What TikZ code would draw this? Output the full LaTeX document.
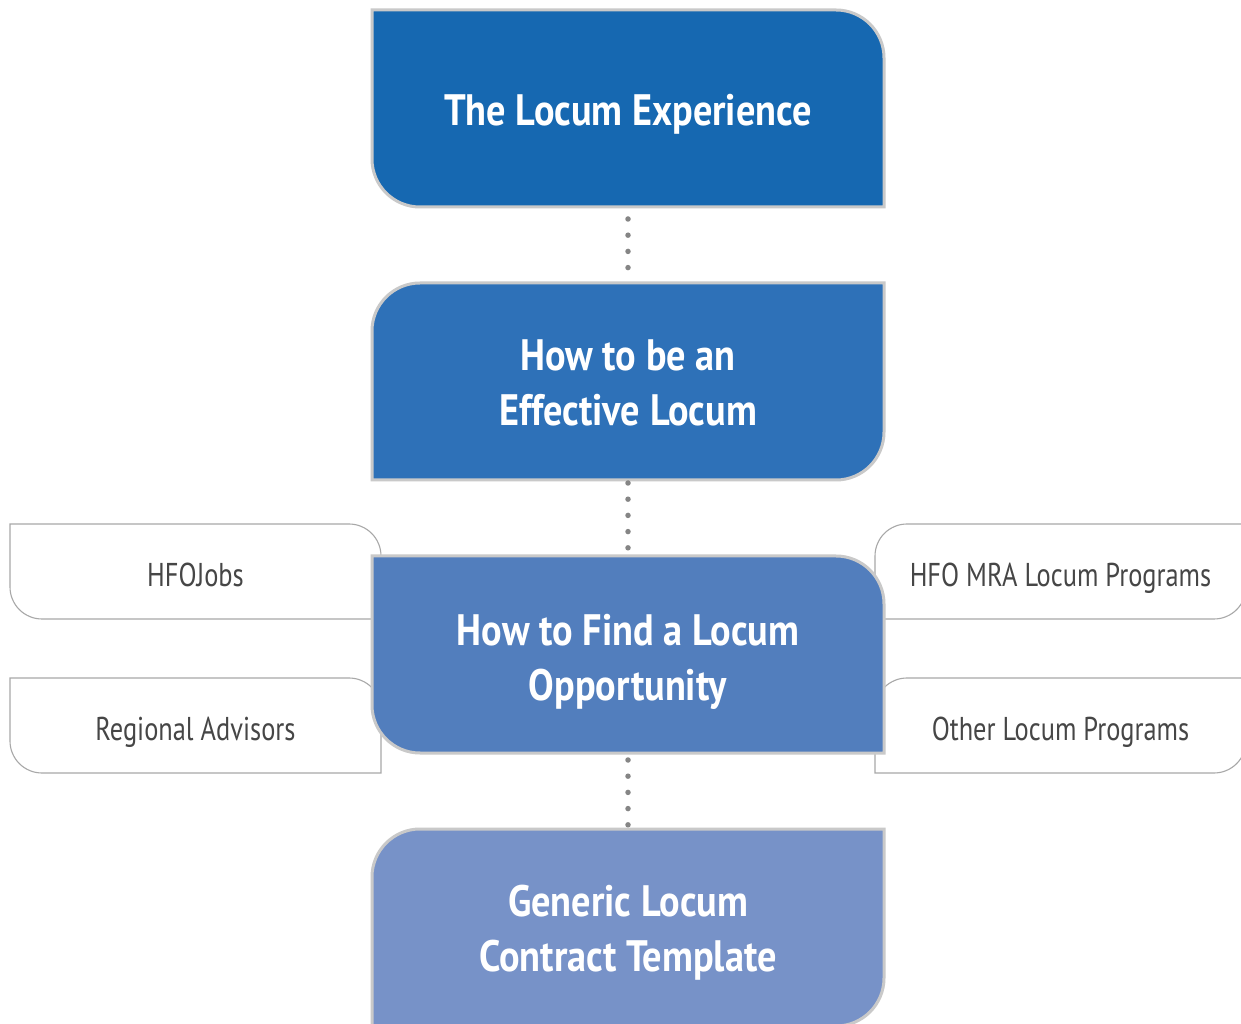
\documentclass[tikz,border=0pt]{standalone}
\usepackage{fontspec}
\newfontfamily\boxfont{PT Sans}[FakeStretch=0.87]
\newfontfamily\sidefont{PT Sans}[FakeStretch=0.80]
\usetikzlibrary{calc}
\definecolor{cA}{HTML}{1668B1}
\definecolor{cB}{HTML}{2E71B8}
\definecolor{cC}{HTML}{527EBD}
\definecolor{cD}{HTML}{7792C8}
\definecolor{mainborder}{HTML}{C9C9C9}
\definecolor{sideborder}{HTML}{A8A8A8}
\definecolor{sidetext}{HTML}{464646}
\definecolor{dotgray}{HTML}{858585}
\tikzset{
  frame/.style={inner sep=0pt, outer sep=0pt, minimum width=#1},
  mainbox/.style={frame=512pt, minimum height=197pt},
  sidebox/.style={frame=371pt, minimum height=95pt},
  mainshape/.style={draw=mainborder, line width=3pt, fill=#1},
  sideshape/.style={draw=sideborder, line width=1.1pt, fill=white},
  maintext/.style={text=white, font=\boxfont\bfseries\fontsize{44}{55}\selectfont, align=center},
  sidetxt/.style={text=sidetext, font=\sidefont\fontsize{33}{40}\selectfont, anchor=base},
  dotline/.style={draw=dotgray, line width=5.5pt, line cap=round, dash pattern=on 0pt off 16.2pt}
}
\newcommand\shapeA[3]{\draw[#3] (#1.north west) -- ([xshift=-#2]#1.north east) arc[start angle=90,end angle=0,radius=#2] -- (#1.south east) -- ([xshift=#2]#1.south west) arc[start angle=270,end angle=180,radius=#2] -- cycle;}
\newcommand\shapeB[3]{\draw[#3] (#1.south west) -- ([yshift=-#2]#1.north west) arc[start angle=180,end angle=90,radius=#2] -- (#1.north east) -- ([yshift=#2]#1.south east) arc[start angle=0,end angle=-90,radius=#2] -- cycle;}
\begin{document}
\begin{tikzpicture}[x=1pt,y=1pt]
\useasboundingbox[fill=white] (0,0) rectangle (1241,1023);
% frames
\node[mainbox] (b1) at (628,914.5) {};
\node[mainbox] (b2) at (628,641.5) {};
\node[mainbox] (b3) at (628,368.5) {};
\node[mainbox] (b4) at (628,95.5) {};
\node[sidebox] (s1) at (195.5,451.5) {};
\node[sidebox] (s2) at (195.5,297.5) {};
\node[sidebox] (s3) at (1060.5,451.5) {};
\node[sidebox] (s4) at (1060.5,297.5) {};
% side shapes
\shapeA{s1}{32pt}{sideshape}
\shapeA{s2}{32pt}{sideshape}
\shapeB{s3}{32pt}{sideshape}
\shapeB{s4}{32pt}{sideshape}
% main shapes
\shapeA{b1}{48pt}{mainshape=cA}
\shapeB{b2}{48pt}{mainshape=cB}
\shapeA{b3}{48pt}{mainshape=cC}
\shapeB{b4}{48pt}{mainshape=cD}
% connectors
\draw[dotline, shorten <=12pt, shorten >=14pt] (b1.south) -- (b2.north);
\draw[dotline, shorten <=3pt, shorten >=8pt] (b2.south) -- (b3.north);
\draw[dotline, shorten <=7pt, shorten >=4pt] (b3.south) -- (b4.north);
% texts
\node[maintext, yshift=-6pt] (t1) at (b1.center) {The Locum Experience};
\node[maintext, yshift=-1pt] (t2) at (b2.center) {How to be an\\Effective Locum};
\node[maintext, yshift=-7pt] (t3) at (b3.center) {How to Find a Locum\\Opportunity};
\node[maintext, yshift=-5pt] (t4) at (b4.center) {Generic Locum\\Contract Template};
\node[sidetxt] (u1) at (s1.center |- 0,436) {HFOJobs};
\node[sidetxt] (u2) at (s2.center |- 0,283) {Regional Advisors};
\node[sidetxt] (u3) at (s3.center |- 0,436) {HFO MRA Locum Programs};
\node[sidetxt] (u4) at (s4.center |- 0,283) {Other Locum Programs};
\end{tikzpicture}
\end{document}
